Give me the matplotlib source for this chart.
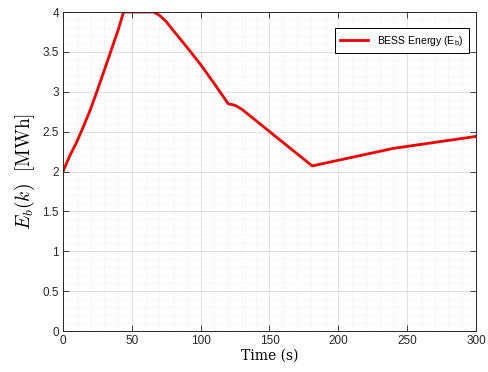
import matplotlib
matplotlib.use("Agg")
import matplotlib.pyplot as plt
from matplotlib.ticker import MultipleLocator, FormatStrFormatter

# BESS stored energy over the simulation horizon
time_s = [0, 5, 10, 15, 20, 25, 30, 35, 40, 44, 55, 66, 70, 75, 80, 90, 100,
          110, 120, 125, 130, 181, 240, 300]
energy_mwh = [2.0, 2.2, 2.37, 2.57, 2.78, 3.02, 3.27, 3.52, 3.77, 4.0, 4.0, 4.0,
              3.96, 3.88, 3.77, 3.56, 3.34, 3.1, 2.85, 2.83, 2.78, 2.07, 2.29, 2.44]

plt.rcParams['font.family'] = ['Liberation Sans', 'DejaVu Sans']
plt.rcParams['mathtext.fontset'] = 'cm'

fig = plt.figure(figsize=(4.89, 3.72), dpi=100)
ax = fig.add_axes([0.1288, 0.1102, 0.8446, 0.8575])

ax.plot(time_s, energy_mwh, color='#f00000', lw=2.0,
        label=r'BESS Energy (E$_\mathregular{b}$)')

ax.set_xlim(0, 300)
ax.set_ylim(0, 4)
ax.xaxis.set_major_locator(MultipleLocator(50))
ax.xaxis.set_minor_locator(MultipleLocator(10))
ax.yaxis.set_major_locator(MultipleLocator(0.5))
ax.yaxis.set_minor_locator(MultipleLocator(0.1))
ax.yaxis.set_major_formatter(FormatStrFormatter('%g'))

ax.grid(which='major', color='#dcdcdc', lw=0.6, ls='-')
ax.grid(which='minor', color='#e4e4e4', lw=0.5, ls=':')
ax.set_axisbelow(True)

ax.tick_params(which='major', direction='in', top=True, right=True, length=4,
               width=0.6, labelsize=8.5, colors='#262626', pad=3)
ax.tick_params(which='minor', top=False, right=False, bottom=False, left=False)
for s in ax.spines.values():
    s.set_linewidth(0.7)
    s.set_color('#262626')

ax.set_xlabel('Time (s)', fontsize=10, labelpad=1, fontfamily='DejaVu Serif')
ax.set_ylabel(r'$E_b(k)\ \ \mathrm{[MWh]}$', fontsize=14, labelpad=4)

leg = ax.legend(loc='upper right', fontsize=7.5, fancybox=False, framealpha=1,
                edgecolor='black', handlelength=2.7, borderpad=0.5,
                bbox_to_anchor=(0.995, 0.965))
leg.get_frame().set_linewidth(0.7)

fig.savefig('out.png', dpi=100)
